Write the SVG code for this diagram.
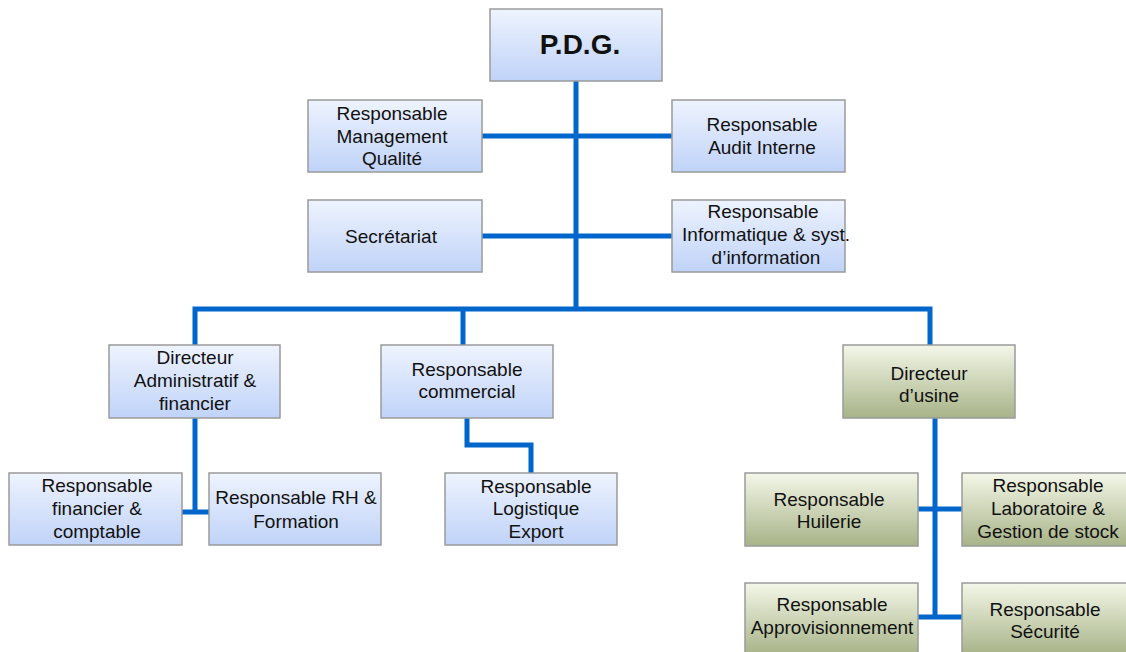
<svg xmlns="http://www.w3.org/2000/svg" width="1126" height="652" viewBox="0 0 1126 652">
<defs>
<linearGradient id="gb" x1="0" y1="0" x2="0" y2="1"><stop offset="0" stop-color="#eef3fe"/><stop offset="1" stop-color="#c0d3f8"/></linearGradient>
<linearGradient id="gg" x1="0" y1="0" x2="0" y2="1"><stop offset="0" stop-color="#f4f7e8"/><stop offset="1" stop-color="#a7b388"/></linearGradient>
</defs>
<style>
.b{fill:url(#gb);stroke:#9a9a9a;stroke-width:1.5}
.g{fill:url(#gg);stroke:#9a9a9a;stroke-width:1.5}
text{font-family:"Liberation Sans",Arial,sans-serif;font-size:19px;fill:#111;text-anchor:middle}
.c{fill:none;stroke:#0066cc;stroke-width:5}
</style>
<g id="connectors">
<path class="c" d="M576,81 V309"/>
<path class="c" d="M482,136 H672"/>
<path class="c" d="M482,236 H672"/>
<path class="c" d="M195,345 V309 H930 V345"/>
<path class="c" d="M463,309 V345"/>
<path class="c" d="M195,418 V512"/>
<path class="c" d="M182,512 H209"/>
<path class="c" d="M467,418 V445 H531 V473"/>
<path class="c" d="M935,418 V617"/>
<path class="c" d="M918,509 H962"/>
<path class="c" d="M918,617 H962"/>
</g>
<g id="pdg"><rect class="b" x="490" y="9" width="172" height="72"/><text x="580" y="54" style="font-weight:bold;font-size:28px">P.D.G.</text></g>
<g id="mq"><rect class="b" x="308" y="100" width="174" height="72"/><text x="392" y="120">Responsable</text><text x="392" y="143">Management</text><text x="392" y="165">Qualité</text></g>
<g id="audit"><rect class="b" x="672" y="100" width="173" height="72"/><text x="762" y="131">Responsable</text><text x="762" y="154">Audit Interne</text></g>
<g id="secr"><rect class="b" x="308" y="200" width="174" height="72"/><text x="391" y="243">Secrétariat</text></g>
<g id="info"><rect class="b" x="672" y="200" width="173" height="72"/><text x="763" y="218">Responsable</text><text x="766" y="241">Informatique &amp; syst.</text><text x="766" y="264">d’information</text></g>
<g id="diradmin"><rect class="b" x="109" y="345" width="171" height="73"/><text x="195" y="364">Directeur</text><text x="195" y="387">Administratif &amp;</text><text x="195" y="410">financier</text></g>
<g id="commercial"><rect class="b" x="381" y="345" width="172" height="73"/><text x="467" y="376">Responsable</text><text x="467" y="398">commercial</text></g>
<g id="dirusine"><rect class="g" x="843" y="345" width="172" height="73"/><text x="929" y="380">Directeur</text><text x="929" y="402">d’usine</text></g>
<g id="fincompta"><rect class="b" x="9" y="473" width="173" height="72"/><text x="97" y="492">Responsable</text><text x="97" y="515">financier &amp;</text><text x="97" y="538">comptable</text></g>
<g id="rh"><rect class="b" x="209" y="473" width="172" height="72"/><text x="296" y="504">Responsable RH &amp;</text><text x="296" y="528">Formation</text></g>
<g id="logistique"><rect class="b" x="445" y="473" width="172" height="72"/><text x="536" y="493">Responsable</text><text x="536" y="515">Logistique</text><text x="536" y="538">Export</text></g>
<g id="huilerie"><rect class="g" x="745" y="473" width="173" height="73"/><text x="829" y="506">Responsable</text><text x="829" y="528">Huilerie</text></g>
<g id="labo"><rect class="g" x="962" y="473" width="173" height="73"/><text x="1048" y="492">Responsable</text><text x="1048" y="515">Laboratoire &amp;</text><text x="1048" y="538">Gestion de stock</text></g>
<g id="appro"><rect class="g" x="745" y="583" width="173" height="72"/><text x="832" y="611">Responsable</text><text x="832" y="634">Approvisionnement</text></g>
<g id="securite"><rect class="g" x="962" y="583" width="173" height="72"/><text x="1045" y="616">Responsable</text><text x="1045" y="638">Sécurité</text></g>
</svg>
